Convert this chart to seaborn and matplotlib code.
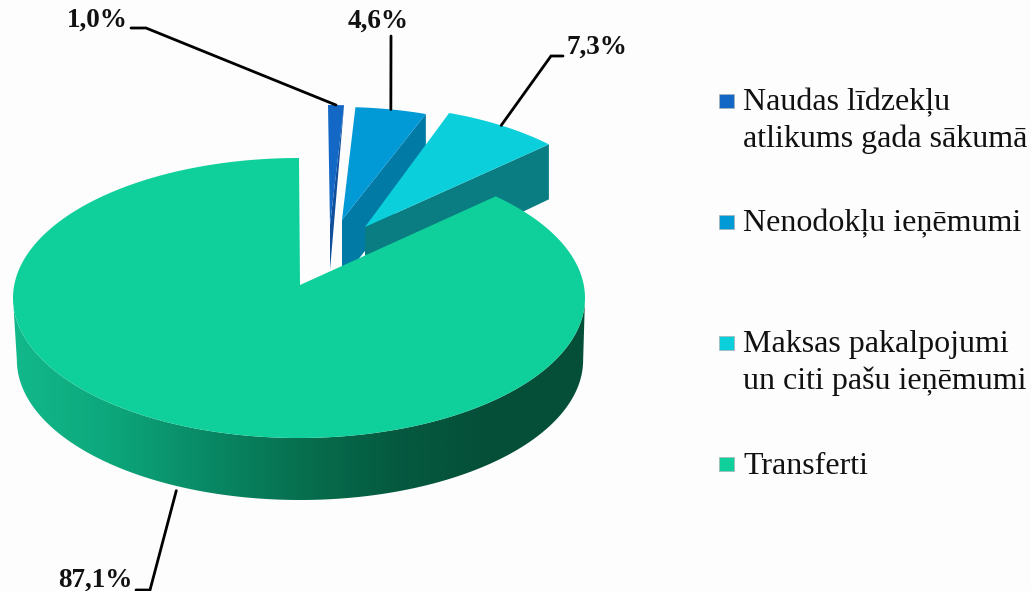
import numpy as np
import pandas as pd
import matplotlib
matplotlib.use('Agg')
import matplotlib.pyplot as plt
from matplotlib.colors import LinearSegmentedColormap
from matplotlib.patches import Polygon
import seaborn as sns

# data
categories = ['Naudas līdzekļu\natlikums gada sākumā', 'Nenodokļu ieņēmumi',
              'Maksas pakalpojumi\nun citi pašu ieņēmumi', 'Transferti']
shares = [1.0, 4.6, 7.3, 87.1]
share_labels = ['1,0%', '4,6%', '7,3%', '87,1%']

# colours
top_colors = ['#1268c4', '#0299d7', '#0bd0db', '#0fd09a']
cut_colors = ['#0f4f9c', '#027aa6', '#0a7d82', '#0a8a66']
wall_colors = ['#12b98a', '#0da77c', '#098a66', '#07704f', '#055a40', '#054f39', '#054f39']

# layout, in picture pixels
cx, cy, rx, ry = 299, 298, 286, 140
depth = 62
shift_x = [29, 41, 67, 0]
shift_y = [-53, -51, -52, 0]
scale_x = [1.0, 0.96, 0.93, 1.0]
apex_x = [330, 342, 365, 300]
apex_y = [225, 220, 227, 285]
rim_depth = [0, 60, 55]
apex_depth = [45, 60, 60]
legend_y = [101, 222, 343, 464]
legend_text_y = [121, 224, 363, 466]
label_x = [97, 378, 597, 95]
label_y = [20, 21, 47, 580]
elbow_x = [[131, 146], [391, 391], [563, 551], [136, 150]]
elbow_y = [[28, 28], [36, 36], [56, 56], [590, 590]]
anchor_shift_x = [0, 0, 0, -20]


def rim_point(t, k=1.0, dx=0, dy=0):
    # t in degrees clockwise from the top; the small warp mimics the 3D view
    a = np.radians(t - 3 * np.sin(np.radians(2 * t)))
    return cx + dx + k * rx * np.sin(a), cy + dy - ry * np.cos(a)


sns.set_theme(style='white')
plt.rcParams['font.family'] = ['Liberation Serif', 'DejaVu Serif']

fig = plt.figure(figsize=(10.31, 5.91), dpi=100, facecolor='#fdfdfd')
ax = fig.add_axes([0, 0, 1, 1])
ax.set_facecolor('#fdfdfd')
ax.set_xlim(0, 1031)
ax.set_ylim(591, 0)
ax.axis('off')

edges = np.concatenate([[0], np.cumsum(shares)]) * 3.6

# side wall of the big slice, with the left to right shading
tt = np.linspace(90, 270, 200)
xs, ys = rim_point(tt)
wall_xy = np.column_stack([
    np.concatenate([xs, (xs[::-1] - cx) * 0.99 + cx + 1]),
    np.concatenate([ys, ys[::-1] + depth]),
])
wall = Polygon(wall_xy, closed=True, fc='none', ec='none')
ax.add_patch(wall)
cmap = LinearSegmentedColormap.from_list('wall', wall_colors)
grad = ax.imshow(np.linspace(0, 1, 256).reshape(1, -1), cmap=cmap, aspect='auto',
                 extent=(13, 585, 520, 280), zorder=1)
grad.set_clip_path(wall)
ax.set_xlim(0, 1031)
ax.set_ylim(591, 0)

# the three pulled out slices, back to front
for i in range(3):
    t0, t1 = edges[i], edges[i + 1]
    tt = np.linspace(t0, t1, 40)
    x, y = rim_point(tt, scale_x[i], shift_x[i], shift_y[i])
    ax.add_patch(Polygon([(x[-1], y[-1]), (x[-1], y[-1] + rim_depth[i]),
                          (apex_x[i], apex_y[i] + apex_depth[i]), (apex_x[i], apex_y[i])],
                         closed=True, fc=cut_colors[i], ec='none', zorder=2 + i))
    ax.add_patch(Polygon(np.column_stack([np.append(x, apex_x[i]), np.append(y, apex_y[i])]),
                         closed=True, fc=top_colors[i], ec='none', zorder=2 + i))

# big slice on top
tt = np.linspace(edges[3], edges[4], 400)
x, y = rim_point(tt)
ax.add_patch(Polygon(np.column_stack([np.append(x, apex_x[3]), np.append(y, apex_y[3])]),
                     closed=True, fc=top_colors[3], ec='none', zorder=6))

# leader lines and value labels
for i, lab in enumerate(share_labels):
    mid = (edges[i] + edges[i + 1]) / 2
    ex, ey = rim_point(mid, scale_x[i], shift_x[i], shift_y[i])
    if i == 3:
        ey = ey + depth
    ax.plot(elbow_x[i] + [ex + anchor_shift_x[i]], elbow_y[i] + [ey], color='black', lw=2.0,
            solid_joinstyle='miter', zorder=5 if i == 3 else 7)
    ax.text(label_x[i], label_y[i], lab, fontsize=19.5, fontweight='bold', color='#111111',
            ha='center', va='center', zorder=8)

# legend
legend_df = pd.DataFrame({'category': categories, 'x': [726.5] * 4, 'y': legend_y})
sns.scatterplot(data=legend_df, x='x', y='y', hue='category', palette=top_colors, marker='s',
                s=115, edgecolor='#aab4b8', linewidth=0.5, legend=False, ax=ax, zorder=8)
ax.axis('off')
for name, ty in zip(categories, legend_text_y):
    ax.text(743, ty, name, fontsize=23, color='#111111', ha='left', va='center', linespacing=1.36)

fig.savefig('out.png', dpi=100, facecolor=fig.get_facecolor())
